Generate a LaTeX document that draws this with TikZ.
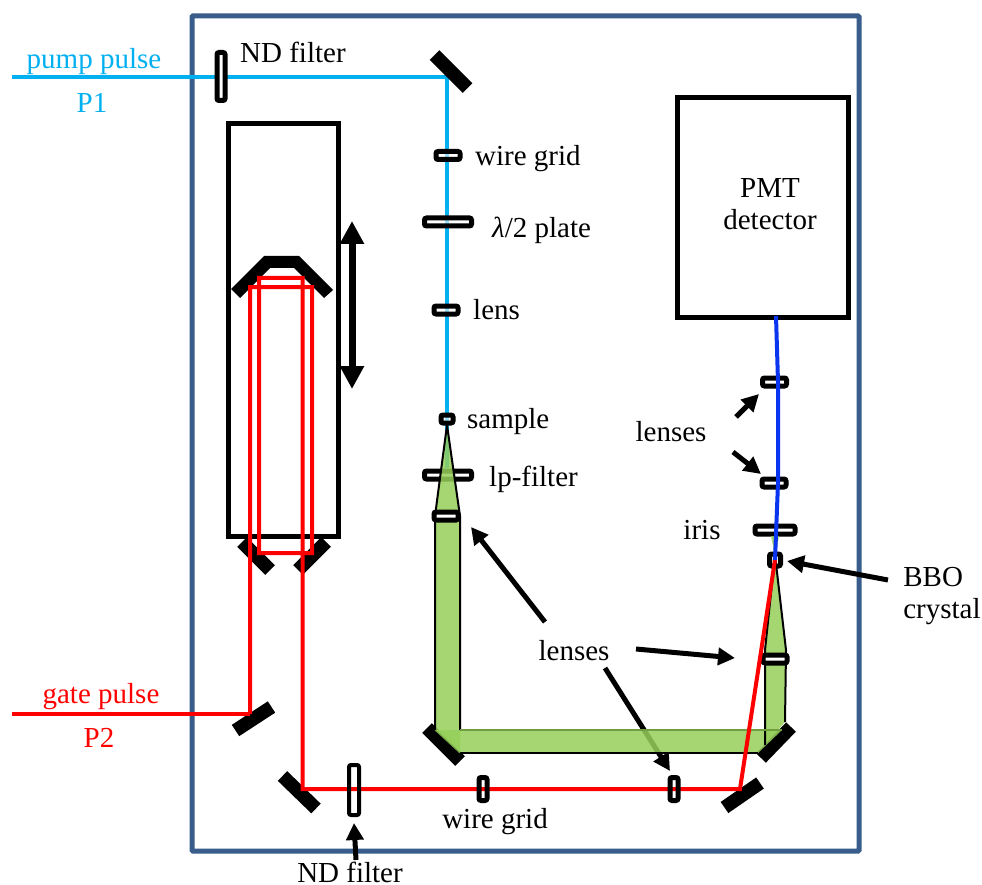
\documentclass[tikz,border=0pt]{standalone}
\usepackage{fontspec}
\setmainfont{Liberation Serif}
\usetikzlibrary{arrows.meta}
\definecolor{framecol}{HTML}{385D8A}
\definecolor{pumpcol}{HTML}{00B0F0}
\definecolor{gatecol}{HTML}{FF0000}
\definecolor{bluecol}{HTML}{0A35F0}
\definecolor{greencol}{HTML}{96CF5A}
\definecolor{greenline}{HTML}{6F9E3F}
\tikzset{
  x=1pt,y=-1pt,
  optic/.style={draw=black,line width=5pt,rounded corners=2pt,fill=white,fill opacity=.6,inner sep=0pt,minimum width=#1,minimum height=8pt},
  vopt/.style={draw=black,line width=5pt,rounded corners=2pt,fill=white,fill opacity=.6,inner sep=0pt,minimum width=8pt,minimum height=#1},
  box/.style={draw=black,line width=5pt,fill=none,inner sep=0pt},
  mirror/.style={line width=13.5pt,black},
  lbl/.style={font=\fontsize{29}{32}\selectfont,inner sep=0pt,align=center},
  pointer/.style={line width=5pt,-{Triangle[length=17pt,width=17pt]}},
  pump/.style={line width=4pt,pumpcol},
  gate/.style={line width=4pt,gatecol,line join=miter},
  probe/.style={line width=4pt,bluecol},
  greenbeam/.style={fill=greencol,fill opacity=.85},
  edge/.style={line width=2pt,black},
}
\begin{document}
\begin{tikzpicture}
\useasboundingbox (0,0) rectangle (982,885);
\fill[white] (0,0) rectangle (982,885);
\draw[line width=5pt,framecol,rounded corners=1pt] (192,16) rectangle (859,851);
\node[box,minimum width=110pt,minimum height=412pt] (stage) at (283,330) {};
\node[box,minimum width=171pt,minimum height=219pt] (pmt) at (763,207.5) {};
\node[lbl] (pmttext) at (770,204) {PMT\\detector};

% named points
\coordinate (pstart) at (12,77);
\coordinate (pturn) at (447,77);
\coordinate (pend) at (447,468);
\coordinate (gstart) at (12,714);
\coordinate (gturn) at (250,714);
\coordinate (r1) at (250,287);
\coordinate (r2) at (312,287);
\coordinate (r3) at (312,553);
\coordinate (r4) at (259,553);
\coordinate (r5) at (259,278);
\coordinate (r6) at (302.5,278);
\coordinate (r7) at (302.5,789);
\coordinate (r8) at (740,789);
\coordinate (focus) at (775,560);

% optics under the beams
\draw[pump] (pstart) -- (pturn) -- (pend);
\node[vopt=48pt,fill opacity=1] (ndtop) at (221,76.5) {};
\node[optic=24pt] (wiregrid) at (448,155.5) {};
\node[optic=47pt] (lambda) at (448,222) {};
\node[optic=24pt] (lens1) at (446,310) {};
\node[optic=12pt] (sample) at (447,419) {};
\node[optic=47pt] (lpfilter) at (448,475) {};
\node[optic=40pt] (iris) at (775,530) {};
\node[draw=black,line width=5pt,rounded corners=2pt,fill=white,inner sep=0pt,minimum width=11pt,minimum height=12pt] (bbo) at (775,560) {};
\node[optic=24pt] (lens3) at (774.5,382) {};
\node[optic=24pt] (lens4) at (774,483) {};

% labels
\node[lbl,anchor=west] (ndtoplbl) at (240,52) {ND filter};
\node[lbl,text=pumpcol] (pumplbl) at (94,62) {pump pulse};
\node[lbl,text=pumpcol] (p1lbl) at (92,103) {P1};
\node[lbl,anchor=west] (wglbl) at (475,159) {wire grid};
\node[lbl,anchor=west] (hwlbl) at (492,230) {{\itshape λ}/2 plate};
\node[lbl,anchor=west] (lenslbl) at (473,310) {lens};
\node[lbl,anchor=west] (samplelbl) at (467,422) {sample};
\node[lbl,anchor=west] (lplbl) at (489,479) {lp-filter};
\node[lbl] (lensesr) at (671,432) {lenses};
\node[lbl] (irislbl) at (702,530) {iris};
\node[lbl,align=left] (bbolbl) at (942,596) {BBO\\crystal};
\node[lbl] (lensesm) at (574,651) {lenses};
\node[lbl,text=gatecol] (gatelbl) at (101,697) {gate pulse};
\node[lbl,text=gatecol] (p2lbl) at (99,738) {P2};
\node[lbl] (wg2lbl) at (495,822) {wire grid};
\node[font=\fontsize{29}{32}\selectfont,inner sep=0pt,anchor=base] (nd2lbl) at (350,882) {ND filter};

% pointers
\coordinate (la) at (736,417); \coordinate (lb) at (759,394);
\coordinate (lc) at (733,452); \coordinate (ld) at (761,474);
\coordinate (ba) at (888,580); \coordinate (bb) at (787,561);
\coordinate (ma) at (545,622); \coordinate (mb) at (471,527);
\coordinate (mc) at (636,649); \coordinate (md) at (735,658);
\coordinate (me) at (605,668); \coordinate (mf) at (670,771);
\coordinate (na) at (356,860); \coordinate (nb) at (354,823);
\coordinate (ua) at (352,221); \coordinate (ub) at (352,389);
\draw[pointer] (la) -- (lb);
\draw[pointer] (lc) -- (ld);
\draw[pointer] (ba) -- (bb);
\draw[pointer] (ma) -- (mb);
\draw[pointer] (mc) -- (md);
\draw[pointer] (me) -- (mf);
\draw[pointer] (na) -- (nb);
\draw[line width=7pt,{Triangle[length=23pt,width=23pt]}-{Triangle[length=23pt,width=23pt]}] (ua) -- (ub);

% mirrors
\draw[mirror] (434.5,55) -- (467.5,88);
\fill[black] (231,289) -- (264,256) -- (299,256) -- (333,290) -- (324,298) -- (294,268) -- (270,268) -- (240,298) -- cycle;
\draw[mirror] (242,542) -- (270,570);
\draw[mirror] (326,542) -- (298,570);
\draw[mirror] (235.5,730.5) -- (271.5,707);
\draw[mirror] (282.5,776) -- (316,808.5);
\draw[mirror] (427,728) -- (460,761);
\draw[mirror] (761,758) -- (791,727);
\draw[mirror] (724.5,807.5) -- (760,783);

% green beam
\fill[greenbeam] (447,425) -- (435,516) -- (435,730) -- (460,753) -- (460,516) -- cycle;
\fill[greenbeam] (435,730) -- (782,730) -- (758,753) -- (460,753) -- cycle;
\fill[greenbeam] (775,555) -- (786,650) -- (785,722) -- (765,744) -- (765,650) -- cycle;
\fill[greenbeam] (771,536) -- (779,536) -- (775,556) -- cycle;
\draw[edge] (447,425) -- (435,516) -- (435,730);
\draw[edge] (447,425) -- (460,516) -- (460,730);
\draw[edge] (460,753) -- (758,753);
\draw[edge] (775,555) -- (786,650) -- (785,722);
\draw[edge] (775,555) -- (765,650) -- (765,745);
\draw[greenline,line width=1.5pt] (460,730) -- (782,730);
\draw[greenline,line width=1pt] (435,730) -- (460,753);

\node[optic=24pt,fill opacity=1] (lens2) at (446,516) {};
\node[optic=24pt,fill opacity=1] (lens5) at (775,659) {};

% red beam
\draw[gate] (gstart) -- (gturn);
\draw[gate] (gturn) -- (r1) -- (r2) -- (r3) -- (r4) -- (r5) -- (r6) -- (r7) -- (r8) -- (focus);
\draw[probe] (776,316) -- (778,382) -- (778,483) -- (focus);
\node[draw=black,line width=4pt,rounded corners=2pt,inner sep=0pt,minimum width=10pt,minimum height=50pt] (ndbot) at (354,790) {};
\node[vopt=23pt,fill=none] (wg3) at (483,789) {};
\node[vopt=23pt,fill=none] (wg4) at (674,789) {};
\end{tikzpicture}
\end{document}
